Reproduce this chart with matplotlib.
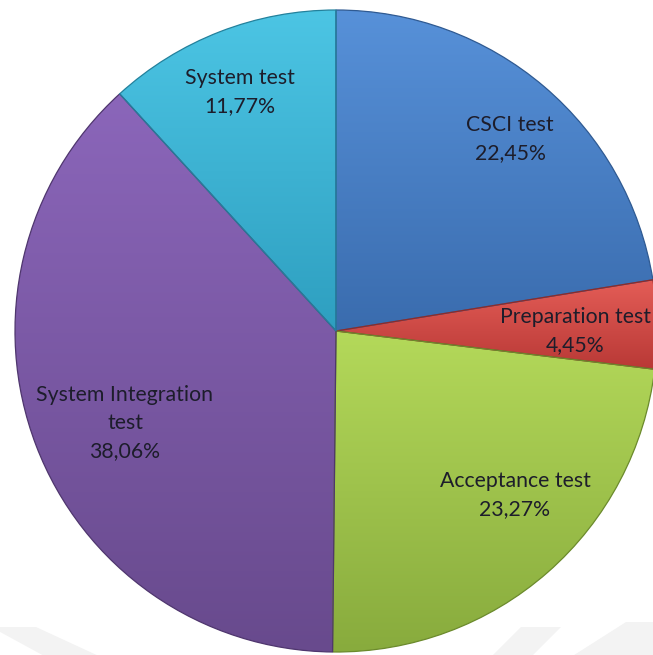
import numpy as np
import matplotlib.pyplot as plt
from matplotlib.colors import LinearSegmentedColormap
from matplotlib.patches import Polygon

# test effort by phase, percent
phases = ['CSCI test', 'Preparation test', 'Acceptance test',
          'System Integration\ntest', 'System test']
shares = [22.45, 4.45, 23.27, 38.06, 11.77]

# shading for each slice, light at the top, dark at the bottom
top_colors = ['#5791d9', '#e45d57', '#b4d95a', '#8b66ba', '#4cc5e4']
bottom_colors = ['#3a6cae', '#b93936', '#88ab3d', '#684a8d', '#2e9fc0']
edge_colors = ['#2f5a92', '#8f2b29', '#6b8a2c', '#4f366e', '#23819c']

# label anchor points, pixels from the pie centre
label_xy = [(174, 192), (239, 0), (179, -164), (-211, -92), (-96, 239)]

R = 321

fig = plt.figure(figsize=(6.53, 6.55), dpi=100)
ax = fig.add_axes([0, 0, 1, 1])

# faint chevrons along the bottom edge
for pts in [[(-345, -296), (-300, -296), (-235, -326), (-290, -326)],
            [(155, -326), (185, -296), (225, -296), (195, -326)],
            [(235, -326), (290, -291), (330, -291), (330, -326)]]:
    ax.add_patch(Polygon(pts, closed=True, facecolor='#f3f3f3',
                         edgecolor='none', zorder=0))

wedges, _ = ax.pie(shares, startangle=90, counterclock=False,
                   radius=R, center=(0, 0),
                   wedgeprops=dict(linewidth=0.9))

grad = np.linspace(0, 1, 256).reshape(-1, 1)
for w, c_top, c_bot, c_edge in zip(wedges, top_colors, bottom_colors, edge_colors):
    bb = w.get_path().get_extents()
    cmap = LinearSegmentedColormap.from_list('shade', [c_bot, c_top])
    im = ax.imshow(grad, extent=(bb.x0, bb.x1, bb.y0, bb.y1), origin='lower',
                   cmap=cmap, aspect='auto', interpolation='bilinear', zorder=2)
    im.set_clip_path(w)
    w.set_facecolor('none')
    w.set_edgecolor(c_edge)
    w.set_zorder(3)

for name, val, (x, y) in zip(phases, shares, label_xy):
    txt = f"{name}\n{val:.2f}%".replace('.', ',')
    ax.text(x, y, txt, ha='center', va='center', fontsize=15.3,
            family='Lato', color='#1d1d2b', linespacing=1.48, zorder=4)

ax.set_xlim(-336, 317)
ax.set_ylim(-324, 331)
ax.set_aspect('equal')
ax.axis('off')

fig.savefig('out.png', dpi=100)
